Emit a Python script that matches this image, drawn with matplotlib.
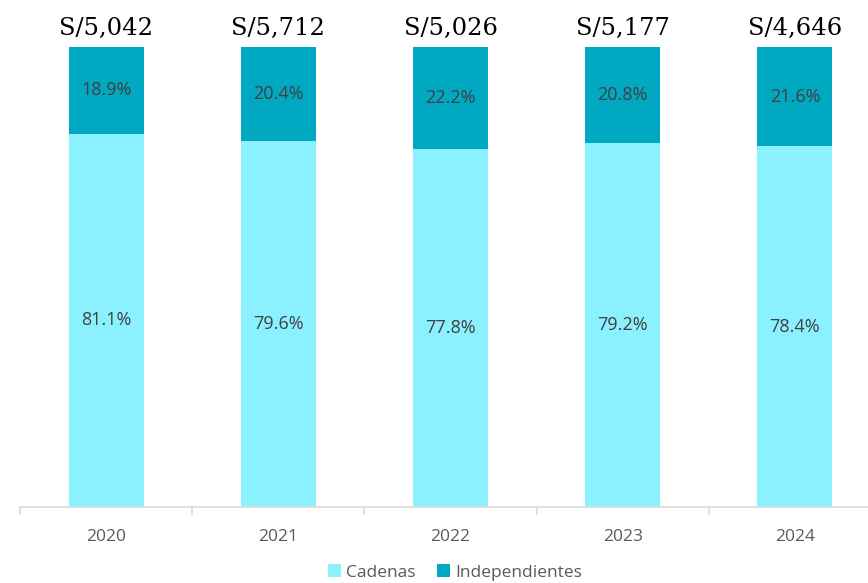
import numpy as np
import matplotlib.pyplot as plt

years = ['2020', '2021', '2022', '2023', '2024']
cadenas = [81.1, 79.6, 77.8, 79.2, 78.4]
independientes = [18.9, 20.4, 22.2, 20.8, 21.6]
totales = ['S/5,042', 'S/5,712', 'S/5,026', 'S/5,177', 'S/4,646']

c_light = '#8CF1FE'
c_dark = '#00A8C1'

fig = plt.figure(figsize=(8.68, 5.83), dpi=100)
ax = fig.add_axes([20/868, 76/583, 848/868, 460/583])

x = np.arange(len(years))
w = 0.435
ax.bar(x, cadenas, w, color=c_light, label='Cadenas')
ax.bar(x, independientes, w, bottom=cadenas, color=c_dark, label='Independientes')

for i in range(len(years)):
    ax.text(x[i], cadenas[i] / 2, f'{cadenas[i]:.1f}%', ha='center', va='center',
            fontsize=13, color='#404040', family='Open Sans')
    ax.text(x[i], cadenas[i] + independientes[i] / 2, f'{independientes[i]:.1f}%',
            ha='center', va='center', fontsize=13, color='#404040', family='Open Sans')
    ax.text(x[i], 104, totales[i], ha='center', va='center', fontsize=17.5,
            color='black', family='DejaVu Serif', clip_on=False)

ax.set_xticks(x)
ax.set_xticklabels(years, fontsize=12.5, color='#595959', family='Open Sans')
ax.tick_params(axis='x', length=0, pad=16)
ax.set_xticks(np.arange(-0.5, 5, 1), minor=True)
ax.tick_params(axis='x', which='minor', length=6, color='#D9D9D9', width=1.2)
ax.set_yticks([])
ax.set_xlim(-0.5, 4.5 - 13/172.2)
ax.set_ylim(0, 100)
for s in ['top', 'right', 'left']:
    ax.spines[s].set_visible(False)
ax.spines['bottom'].set_color('#D9D9D9')
ax.spines['bottom'].set_linewidth(1.2)

fig.legend(loc='center', bbox_to_anchor=(0.524, 0.018), ncol=2, frameon=False,
           handlelength=0.75, handleheight=0.75, handletextpad=0.3, columnspacing=1.2,
           borderpad=0.1, prop={'family': 'Open Sans', 'size': 12.5}, labelcolor='#595959')

fig.savefig('out.png', dpi=100)
